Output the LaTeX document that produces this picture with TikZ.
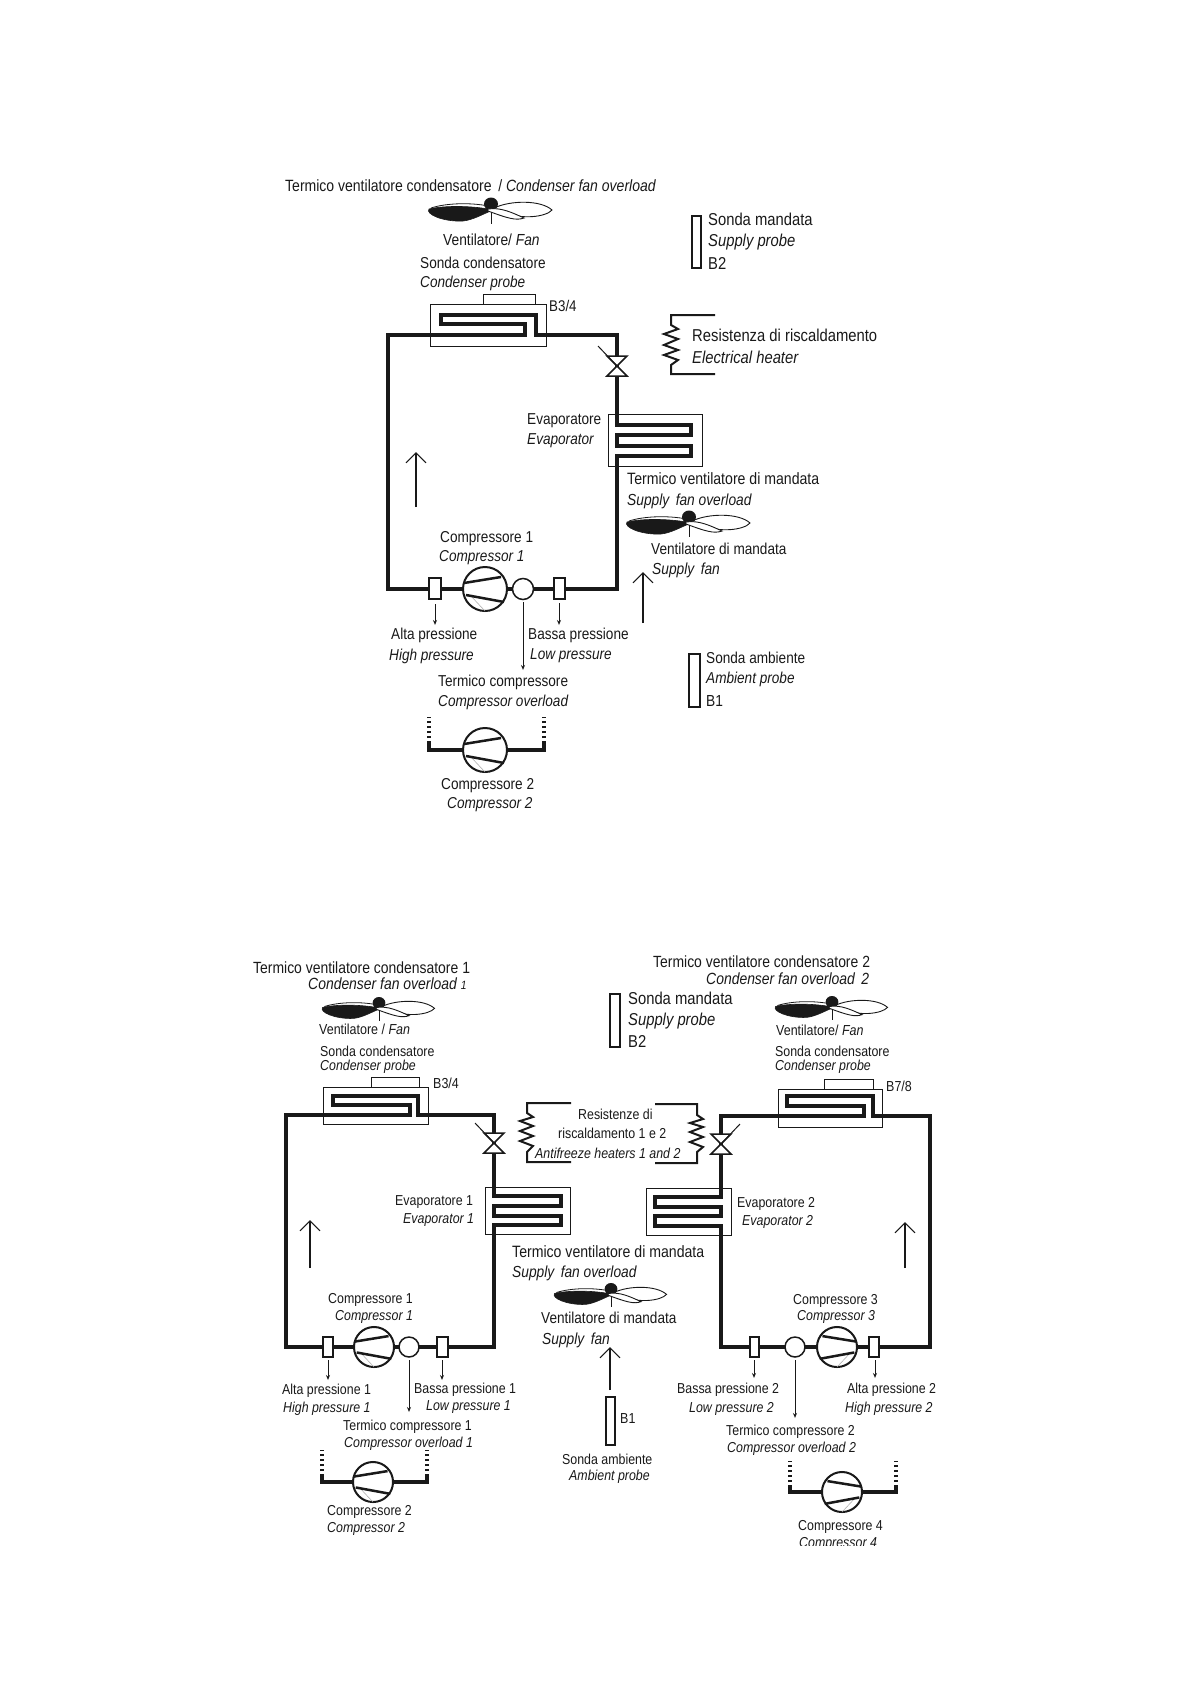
\documentclass[tikz,border=0pt]{standalone}
\usepackage{fontspec}
\setmainfont[FakeStretch=0.86]{Liberation Sans}
\usetikzlibrary{arrows.meta}
\definecolor{ink}{gray}{0.1}
\tikzset{x=1pt,y=-1pt,
  pipe/.style={draw=ink,line width=3.4pt,miter limit=10},
  thinbox/.style={draw=ink,line width=1pt},
  probebox/.style={draw=ink,line width=1.2pt,fill=white},
  txt/.style={inner sep=0pt,anchor=west,text=ink},
  bigarrow/.style={draw=ink,line width=1.1pt,-{Straight Barb[length=10pt,width=20pt,line width=1.1pt]}},
  smallarrow/.style={draw=ink,line width=.7pt,-{Stealth[length=5pt,width=4pt,open,fill=white]}},
  dotpipe/.style={draw=ink,line width=3.5pt,dash pattern=on 2.5pt off 2.5pt},
  solidpipe/.style={draw=ink,line width=3.4pt}
}
\newcommand{\lbl}[5]{\node[txt,font=\fontsize{#4}{#4}\selectfont] (#1) at (#2,#3) {#5};}
\newcommand{\lit}[5]{\node[txt,font=\fontsize{#4}{#4}\selectfont\itshape] (#1) at (#2,#3) {#5};}
% fan: x, y hub, scale
\newcommand{\fanblade}[3]{\begin{scope}[shift={(#1,#2)},x=#3pt,y=-#3pt]
  \fill[ink] (0,1) circle[x radius=7,y radius=6.5];
  \draw[ink,line width=.9pt] (0,8) -- (0,21);
  \draw[ink,line width=.9pt] (3,5) .. controls (20,-3) and (50,-3) .. (61,7) .. controls (55,14) and (30,17) .. (13,9);
  \filldraw[ink,line width=.6pt] (2,7) .. controls (-15,3) and (-45,2) .. (-62,6) .. controls (-66,11) and (-48,19) .. (-28,18) .. controls (-18,17) and (-8,11) .. (2,7) -- cycle;
  \draw[ink,line width=.8pt] (2,4) .. controls (-18,-1) and (-45,0) .. (-60,5);
  \filldraw[draw=ink,fill=white,line width=.9pt] (-3,6) .. controls (10,4) and (22,10) .. (33,15) .. controls (25,18) and (16,15) .. (-3,8) -- cycle;
\end{scope}}
% compressor: x, y, radius factor, mirror
\newcommand{\compr}[4]{\begin{scope}[shift={(#1,#2)},x=#4*#3pt,y=-#3pt]
  \draw[ink,line width=2pt,fill=white] (0,0) circle[x radius=22,y radius=22];
  \draw[gray!70,line width=.5pt] (-15,6) -- (0,22);
  \draw[ink,line width=2.5pt] (-21,-6) -- (16,-12);
  \draw[ink,line width=2.5pt] (-19,6) -- (19,13);
\end{scope}}
% valve: x, y mid, mirror
\newcommand{\valve}[3]{\begin{scope}[shift={(#1,#2)},x=#3pt]
  \filldraw[draw=ink,fill=white,line width=1.5pt] (-10,-10) -- (10,-10) -- (-10,10) -- (10,10) -- cycle;
  \draw[ink,line width=1pt] (0,0) -- (-19,-20);
\end{scope}}
\begin{document}
\begin{tikzpicture}
\useasboundingbox (0,0) rectangle (1190,1684);
% ===== TOP CIRCUIT =====
\draw[thinbox] (430,304) rectangle (546,346);
\draw[thinbox] (483,304) -- (483,294) -- (535,294) -- (535,304);
\draw[thinbox] (608,414) rectangle (702,466);
\draw[pipe] (429,589) -- (388,589) -- (388,335) -- (525,335) -- (525,324) -- (441,324) -- (441,315) -- (536,315) -- (536,335) -- (617,335) -- (617,425) -- (691,425) -- (691,435) -- (617,435) -- (617,446) -- (691,446) -- (691,456) -- (617,456) -- (617,589) -- (565,589);
\draw[pipe] (441,589) -- (463,589);
\draw[pipe] (507,589) -- (554,589);
\valve{617}{366}{1}
\draw[probebox] (429,578) rectangle (441,599);
\draw[probebox] (554,578) rectangle (565,599);
\compr{485}{589}{1}{1}
\draw[ink,line width=1.5pt,fill=white] (523,589) circle[radius=10.5];
\draw[bigarrow] (416,507) -- (416,452);
\draw[bigarrow] (643,623) -- (643,572);
\draw[smallarrow] (435,604) -- (435,625);
\draw[smallarrow] (559,603) -- (559,625);
\draw[smallarrow] (523,602) -- (523,670);
\draw[probebox] (692,216) rectangle (701,268);
\draw[probebox] (689,654) rectangle (700,707);
% heater top
\draw[draw=ink,line width=2pt] (715,315) -- (671,315) -- (671,325) -- (678,329) -- (664,334) -- (678,339) -- (664,345) -- (678,350) -- (664,355) -- (678,360) -- (671,365) -- (671,374) -- (715,374);
% compressor 2
\draw[solidpipe] (429,743) -- (429,750) -- (544,750) -- (544,743);
\draw[dotpipe] (429,743) -- (429,717);
\draw[dotpipe] (544,743) -- (544,717);
\compr{485}{750}{1}{1}
\fanblade{491}{203}{1}
\fanblade{689}{516}{1}
% labels top
\lbl{a1}{285}{186}{16.3}{Termico ventilatore condensatore \,/ \textit{Condenser fan overload}}
\lbl{a2}{443}{240}{16}{Ventilatore/ \textit{Fan}}
\lbl{a3}{420}{263}{15.8}{Sonda condensatore}
\lit{a4}{420}{283}{15.8}{Condenser probe}
\lbl{a5}{549}{306}{15.5}{B3/4}
\lbl{a6}{708}{219}{17.2}{Sonda mandata}
\lit{a7}{708}{242}{17.2}{Supply probe}
\lbl{a8}{708}{263}{17.2}{B2}
\lbl{a9}{692}{335}{17.2}{Resistenza di riscaldamento}
\lit{a10}{692}{357}{17.2}{Electrical heater}
\lbl{a11}{527}{421}{15.8}{Evaporatore}
\lit{a12}{527}{441}{15.8}{Evaporator}
\lbl{a13}{627}{479}{16.4}{Termico ventilatore di mandata}
\lit{a14}{627}{501}{16}{Supply\, fan overload}
\lbl{a15}{440}{539}{15.8}{Compressore 1}
\lit{a16}{439}{558}{15.8}{Compressor 1}
\lbl{a17}{651}{549}{15.8}{Ventilatore di mandata}
\lit{a18}{652}{570}{16}{Supply\, fan}
\lbl{a19}{391}{635}{15.8}{Alta pressione}
\lit{a20}{389}{656}{15.8}{High pressure}
\lbl{a21}{528}{635}{15.8}{Bassa pressione}
\lit{a22}{530}{656}{15.8}{Low pressure}
\lbl{a23}{706}{658}{15.8}{Sonda ambiente}
\lit{a24}{706}{679}{15.8}{Ambient probe}
\lbl{a25}{706}{701}{16}{B1}
\lbl{a26}{438}{682}{15.8}{Termico compressore}
\lit{a27}{438}{702}{15.8}{Compressor overload}
\lbl{a28}{441}{786}{15.8}{Compressore 2}
\lit{a29}{447}{805}{15.8}{Compressor 2}
% ===== BOTTOM LEFT CIRCUIT =====
\draw[thinbox] (323,1087) rectangle (428,1124);
\draw[thinbox] (371,1087) -- (371,1077) -- (419,1077) -- (419,1087);
\draw[thinbox] (485,1187) rectangle (570,1234);
\draw[pipe] (323,1347) -- (286,1347) -- (286,1115) -- (410,1115) -- (410,1105) -- (333,1105) -- (333,1096) -- (418,1096) -- (418,1115) -- (494,1115) -- (494,1196) -- (561,1196) -- (561,1206) -- (494,1206) -- (494,1216) -- (561,1216) -- (561,1225) -- (494,1225) -- (494,1347) -- (448,1347);
\draw[pipe] (333,1347) -- (355,1347);
\draw[pipe] (390,1347) -- (437,1347);
\valve{494}{1143}{1}
\draw[probebox] (323,1337) rectangle (333,1357);
\draw[probebox] (437,1337) rectangle (448,1357);
\compr{374}{1347}{.91}{1}
\draw[ink,line width=1.5pt,fill=white] (409,1347) circle[radius=10];
\draw[bigarrow] (310,1268) -- (310,1220);
\draw[smallarrow] (328,1360) -- (328,1380);
\draw[smallarrow] (442,1360) -- (442,1380);
\draw[smallarrow] (409,1360) -- (409,1412);
\draw[draw=ink,line width=2pt] (571,1103) -- (527,1103) -- (527,1113) -- (533,1117) -- (520,1121) -- (533,1126) -- (520,1131) -- (533,1136) -- (520,1141) -- (533,1146) -- (527,1152) -- (527,1162) -- (571,1162);
\draw[solidpipe] (322,1476) -- (322,1482) -- (427,1482) -- (427,1476);
\draw[dotpipe] (322,1476) -- (322,1450);
\draw[dotpipe] (427,1476) -- (427,1450);
\compr{373}{1482}{.91}{1}
\fanblade{379}{1002}{.91}
% ===== BOTTOM RIGHT CIRCUIT =====
\draw[thinbox] (778,1089) rectangle (882,1127);
\draw[thinbox] (824,1089) -- (824,1079) -- (873,1079) -- (873,1089);
\draw[thinbox] (646,1188) rectangle (731,1235);
\draw[pipe] (750,1347) -- (721,1347) -- (721,1226) -- (655,1226) -- (655,1216) -- (721,1216) -- (721,1207) -- (655,1207) -- (655,1197) -- (721,1197) -- (721,1116) -- (864,1116) -- (864,1106) -- (787,1106) -- (787,1096) -- (873,1096) -- (873,1116) -- (930,1116) -- (930,1347) -- (879,1347);
\draw[pipe] (759,1347) -- (785,1347);
\draw[pipe] (805,1347) -- (869,1347);
\valve{721}{1144}{-1}
\draw[probebox] (750,1337) rectangle (759,1357);
\draw[probebox] (869,1337) rectangle (879,1357);
\compr{837}{1347}{.91}{-1}
\draw[ink,line width=1.5pt,fill=white] (795,1347) circle[radius=10];
\draw[bigarrow] (905,1268) -- (905,1222);
\draw[smallarrow] (754,1360) -- (754,1378);
\draw[smallarrow] (875,1360) -- (875,1378);
\draw[smallarrow] (795,1360) -- (795,1418);
\draw[draw=ink,line width=2pt] (655,1104) -- (697,1104) -- (697,1115) -- (703,1119) -- (690,1123) -- (703,1127) -- (690,1132) -- (703,1137) -- (690,1142) -- (703,1147) -- (697,1152) -- (697,1163) -- (655,1163);
\draw[solidpipe] (790,1487) -- (790,1492) -- (896,1492) -- (896,1487);
\draw[dotpipe] (790,1487) -- (790,1461);
\draw[dotpipe] (896,1487) -- (896,1461);
\compr{842}{1492}{.91}{-1}
\fanblade{832}{1001}{.91}
% central
\fanblade{611}{1288}{.91}
\draw[bigarrow] (610,1390) -- (610,1347);
\draw[probebox] (606,1397) rectangle (615,1445);
\draw[probebox] (610,994) rectangle (620,1047);
% labels bottom
\lbl{b1}{253}{968}{16.2}{Termico ventilatore condensatore 1}
\lit{b2}{308}{984}{16.2}{Condenser fan overload {\fontsize{12}{12}\selectfont 1}}
\lbl{b3}{319}{1029}{14.5}{Ventilatore / \textit{Fan}}
\lbl{b4}{320}{1051}{14.4}{Sonda condensatore}
\lit{b5}{320}{1067}{14.4}{Condenser probe}
\lbl{b6}{433}{1083}{14.5}{B3/4}
\lbl{b7}{395}{1202}{14.4}{Evaporatore 1}
\lit{b8}{403}{1220}{14.4}{Evaporator 1}
\lbl{b9}{328}{1300}{14.4}{Compressore 1}
\lit{b10}{335}{1317}{14.4}{Compressor 1}
\lbl{b11}{282}{1391}{14.4}{Alta pressione 1}
\lit{b12}{283}{1409}{14.4}{High pressure 1}
\lbl{b13}{414}{1390}{14.4}{Bassa pressione 1}
\lit{b14}{426}{1407}{14.4}{Low pressure 1}
\lbl{b15}{343}{1427}{14.4}{Termico compressore 1}
\lit{b16}{344}{1444}{14.4}{Compressor overload 1}
\lbl{b17}{327}{1512}{14.4}{Compressore 2}
\lit{b18}{327}{1529}{14.4}{Compressor 2}
\lbl{c1}{653}{962}{16.2}{Termico ventilatore condensatore 2}
\lit{c2}{706}{979}{16.2}{Condenser fan overload \,2}
\lbl{c3}{628}{998}{17.2}{Sonda mandata}
\lit{c4}{628}{1021}{17.2}{Supply probe}
\lbl{c5}{628}{1041}{17.2}{B2}
\lbl{c6}{776}{1030}{14.5}{Ventilatore/ \textit{Fan}}
\lbl{c7}{775}{1051}{14.4}{Sonda condensatore}
\lit{c8}{775}{1067}{14.4}{Condenser probe}
\lbl{c9}{886}{1086}{14.5}{B7/8}
\lbl{c10}{737}{1204}{14.4}{Evaporatore 2}
\lit{c11}{742}{1222}{14.4}{Evaporator 2}
\lbl{c12}{793}{1301}{14.4}{Compressore 3}
\lit{c13}{797}{1317}{14.4}{Compressor 3}
\lbl{c14}{677}{1390}{14.4}{Bassa pressione 2}
\lit{c15}{689}{1409}{14.4}{Low pressure 2}
\lbl{c16}{847}{1390}{14.4}{Alta pressione 2}
\lit{c17}{845}{1409}{14.4}{High pressure 2}
\lbl{c18}{726}{1432}{14.4}{Termico compressore 2}
\lit{c19}{727}{1449}{14.4}{Compressor overload 2}
\lbl{c20}{798}{1527}{14.4}{Compressore 4}
\begin{scope}
\clip (780,1530) rectangle (900,1545);
\lit{c21}{799}{1544}{14.4}{Compressor 4}
\end{scope}
\lbl{d1}{578}{1114}{14.4}{Resistenze di}
\lbl{d2}{558}{1133}{14.4}{riscaldamento 1 e 2}
\lit{d3}{535}{1153}{14.4}{Antifreeze heaters 1 and 2}
\lbl{d4}{512}{1252}{16.4}{Termico ventilatore di mandata}
\lit{d5}{512}{1273}{16}{Supply\, fan overload}
\lbl{d6}{541}{1318}{15.8}{Ventilatore di mandata}
\lit{d7}{542}{1340}{16}{Supply\, fan}
\lbl{d8}{620}{1418}{14.5}{B1}
\lbl{d9}{562}{1459}{14.4}{Sonda ambiente}
\lit{d10}{569}{1477}{14.4}{Ambient probe}
\end{tikzpicture}
\end{document}
